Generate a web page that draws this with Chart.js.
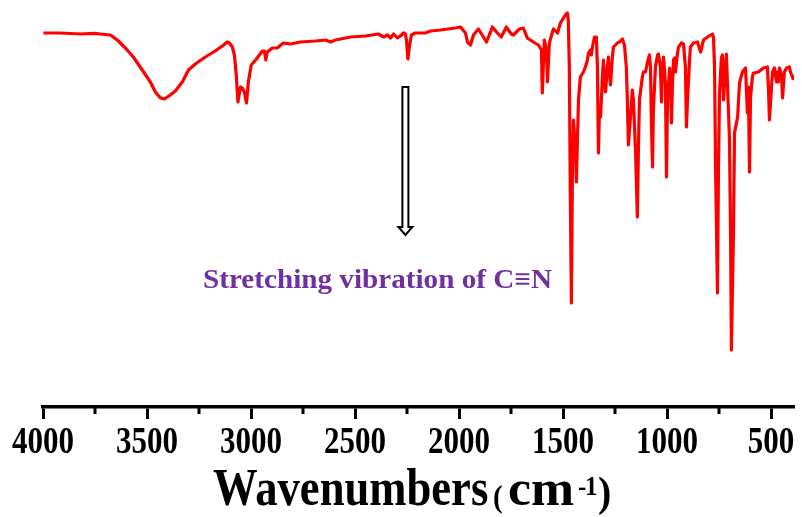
<!DOCTYPE html>
<html>
<head>
<meta charset="utf-8">
<script src="https://cdn.jsdelivr.net/npm/chart.js@4.4.1/dist/chart.umd.min.js"></script>
<style>
  html, body { margin: 0; padding: 0; background: #fff; }
  #wrap { position: relative; width: 802px; height: 517px; }
</style>
</head>
<body>
<div id="wrap"><canvas id="chart" width="802" height="517"></canvas></div>
<script>
// IR spectrum (wavenumber in cm-1, transmittance in %)
const wavenumbers = [
  3998, 3917, 3821, 3749, 3725, 3676, 3643, 3604, 3566, 3523, 3484, 3460, 3435, 3416,
  3388, 3364, 3330, 3301, 3268, 3220, 3172, 3138, 3114, 3104, 3090, 3080, 3071, 3063,
  3051, 3042, 3032, 3022, 3013, 2999, 2974, 2946, 2936, 2929, 2922, 2898, 2874, 2845,
  2811, 2763, 2690, 2642, 2618, 2594, 2522, 2450, 2388, 2363, 2344, 2329, 2315, 2296,
  2282, 2267, 2258, 2253, 2246, 2238, 2229, 2210, 2162, 2137, 2089, 2017, 1993, 1969,
  1960, 1945, 1931, 1907, 1883, 1868, 1840, 1816, 1797, 1773, 1749, 1739, 1710, 1691,
  1672, 1643, 1619, 1604, 1600, 1590, 1580, 1575, 1566, 1551, 1546, 1527, 1513, 1489,
  1479, 1475, 1470, 1465, 1460, 1455, 1450, 1441, 1436, 1431, 1426, 1417, 1402, 1393,
  1383, 1378, 1369, 1364, 1359, 1349, 1340, 1335, 1330, 1325, 1320, 1311, 1306, 1301,
  1296, 1287, 1282, 1277, 1272, 1263, 1258, 1239, 1229, 1215, 1205, 1196, 1191, 1186,
  1176, 1167, 1162, 1152, 1143, 1138, 1133, 1119, 1114, 1104, 1095, 1085, 1080, 1075,
  1070, 1066, 1056, 1046, 1042, 1037, 1032, 1027, 1022, 1017, 1008, 1003, 998, 988,
  984, 979, 974, 969, 964, 960, 950, 945, 931, 921, 912, 907, 902, 892,
  888, 873, 854, 839, 825, 806, 782, 777, 772, 767, 758, 753, 748, 739,
  734, 729, 719, 715, 710, 700, 695, 691, 681, 676, 661, 652, 638, 623,
  614, 609, 604, 599, 590, 585, 561, 537, 518, 513, 508, 498, 493, 484,
  474, 469, 465, 460, 450, 445, 436, 426, 412, 407, 397, 393
];
const transmittance = [
  93.5, 93.5, 93.25, 93.4, 93.25, 93, 91.75, 89.75, 87.5, 84.25, 81.25, 78.75, 77.25, 77,
  78, 79, 81.25, 84.25, 85.75, 87.5, 89, 90.25, 91.25, 91, 90, 88, 83, 76.25,
  80, 79.75, 78.75, 76, 81.25, 85.5, 87, 89, 89, 86.75, 88.75, 89.75, 89.75, 91,
  90.75, 91.25, 91.5, 91.75, 91.25, 91.75, 92.5, 92.75, 93.25, 92.5, 93, 92.25, 93.25, 92.25,
  92.75, 93.5, 93.25, 91.75, 87, 90.5, 93, 93.5, 93.5, 94, 94.25, 94.75, 95, 93.5,
  91.25, 90.5, 93, 94.5, 92.5, 91.25, 95, 93.5, 92.5, 95, 93.25, 93, 94.5, 94.75,
  92.25, 91.25, 90.5, 89.25, 78.5, 91.75, 89.25, 81.25, 91, 93.75, 94.5, 93.5, 96, 98,
  98.5, 96.75, 85, 51.75, 26, 60, 71.75, 64.25, 56.25, 66.75, 76.75, 82.5, 83.75, 85,
  86.75, 88.5, 89.25, 88, 90, 92.5, 92.5, 85, 63.5, 75, 72.5, 82.5, 86.75, 81.75,
  78.75, 85, 87.5, 83.5, 80.5, 87.5, 90, 91, 91.25, 92, 90.5, 85, 76.75, 65.5,
  72.5, 79.25, 76.75, 64.25, 47.5, 64.25, 76.75, 82.5, 83.75, 83.75, 86, 88, 85, 70,
  60, 74.25, 85, 88, 88.25, 86.75, 85, 76.25, 85, 87.5, 81, 57.5, 76.75, 84.75,
  80, 71, 81, 86.75, 87.25, 83.75, 88.5, 90, 91, 90.75, 85, 70, 76.75, 86.75,
  90, 91, 91.25, 88.75, 91.75, 92.5, 93.25, 92.5, 85, 60, 28.5, 60, 78.5, 87.25,
  88, 76.75, 85, 88.25, 81, 66.75, 43.5, 14.25, 43.5, 68.5, 72.5, 81, 83.75, 84.75,
  73.5, 80, 58.75, 77.5, 82.5, 83.5, 83.75, 84.75, 85, 80, 71.75, 80, 83.75, 84.75,
  81.25, 83.75, 81.25, 84.75, 83, 77.25, 83.75, 84.75, 85, 83.75, 82.5, 81.75
];
const majorTicks = [4000, 3500, 3000, 2500, 2000, 1500, 1000, 500];
const minorTicks = [3750, 3250, 2750, 2250, 1750, 1250, 750];
const noteText = "Stretching vibration of C\u2261N";
const arrowAt = 2258;

const serif = '"Liberation Serif", "Times New Roman", serif';

// text drawn with its own stretch (the figure's fonts look squeezed)
function stretchedText(ctx, text, x, y, size, sx, sy) {
  ctx.save();
  ctx.translate(x, y);
  ctx.scale(sx, sy);
  ctx.font = "bold " + size + "px " + serif;
  ctx.fillText(text, 0, 0);
  ctx.restore();
}

// extra drawing: minor ticks, tick labels, axis title, arrow + note
const decorations = {
  id: "decorations",
  afterDraw(chart) {
    const { ctx, chartArea } = chart;
    const xs = chart.scales.x;
    const ys = chart.scales.y;
    const bottom = chartArea.bottom;

    ctx.save();
    ctx.strokeStyle = "#000";
    ctx.lineWidth = 3;
    minorTicks.forEach(v => {
      const px = Math.round(xs.getPixelForValue(v));
      ctx.beginPath();
      ctx.moveTo(px, bottom);
      ctx.lineTo(px, bottom + 7);
      ctx.stroke();
    });

    // tick labels
    ctx.fillStyle = "#000";
    ctx.textAlign = "center";
    ctx.textBaseline = "alphabetic";
    majorTicks.forEach(v => {
      stretchedText(ctx, String(v), xs.getPixelForValue(v), 453, 31, 1, 1.24);
    });

    // axis title
    ctx.textAlign = "left";
    stretchedText(ctx, "Wavenumbers", 213, 505, 48, 0.93, 1.1);
    stretchedText(ctx, "(", 493, 507, 29, 1, 1.1);
    stretchedText(ctx, "cm", 508, 505, 47, 1.1, 1.1);
    stretchedText(ctx, "-", 578, 495, 25, 1, 1.1);
    stretchedText(ctx, "1", 585, 495, 25, 1, 1.1);
    stretchedText(ctx, ")", 598, 506, 40, 1, 1.05);

    // hollow arrow
    const ax = xs.getPixelForValue(arrowAt);
    const top = ys.getPixelForValue(80);
    const tip = ys.getPixelForValue(43);
    const neck = tip - 8;
    ctx.beginPath();
    ctx.moveTo(ax - 3, top);
    ctx.lineTo(ax + 3, top);
    ctx.lineTo(ax + 3, neck);
    ctx.lineTo(ax + 7, neck);
    ctx.lineTo(ax, tip);
    ctx.lineTo(ax - 7, neck);
    ctx.lineTo(ax - 3, neck);
    ctx.closePath();
    ctx.fillStyle = "#fff";
    ctx.fill();
    ctx.lineWidth = 2;
    ctx.lineJoin = "miter";
    ctx.strokeStyle = "#000";
    ctx.stroke();

    // note
    ctx.fillStyle = "#7030a0";
    ctx.textAlign = "center";
    stretchedText(ctx, noteText, xs.getPixelForValue(2392), ys.getPixelForValue(29.75), 27, 1.08, 1);
    ctx.restore();
  }
};

new Chart(document.getElementById("chart"), {
  type: "line",
  data: {
    datasets: [{
      data: wavenumbers.map((w, i) => ({ x: w, y: transmittance[i] })),
      borderColor: "#ff0000",
      borderWidth: 3.2,
      pointRadius: 0,
      tension: 0,
      borderJoinStyle: "round",
      fill: false
    }]
  },
  options: {
    responsive: false,
    animation: false,
    devicePixelRatio: 1,
    layout: { padding: { top: 7, left: 43, right: 8, bottom: 0 } },
    plugins: { legend: { display: false }, tooltip: { enabled: false } },
    scales: {
      x: {
        type: "linear",
        reverse: true,
        min: 390,
        max: 4000,
        afterBuildTicks: scale => { scale.ticks = majorTicks.map(v => ({ value: v })); },
        afterFit: scale => { scale.height = 110; },
        ticks: { display: false },
        grid: {
          drawOnChartArea: false,
          drawTicks: true,
          tickLength: 12,
          tickWidth: 3,
          tickColor: "#000"
        },
        border: { display: true, color: "#000", width: 3.5 }
      },
      y: {
        display: false,
        min: 0,
        max: 100
      }
    }
  },
  plugins: [decorations]
});
</script>
</body>
</html>
